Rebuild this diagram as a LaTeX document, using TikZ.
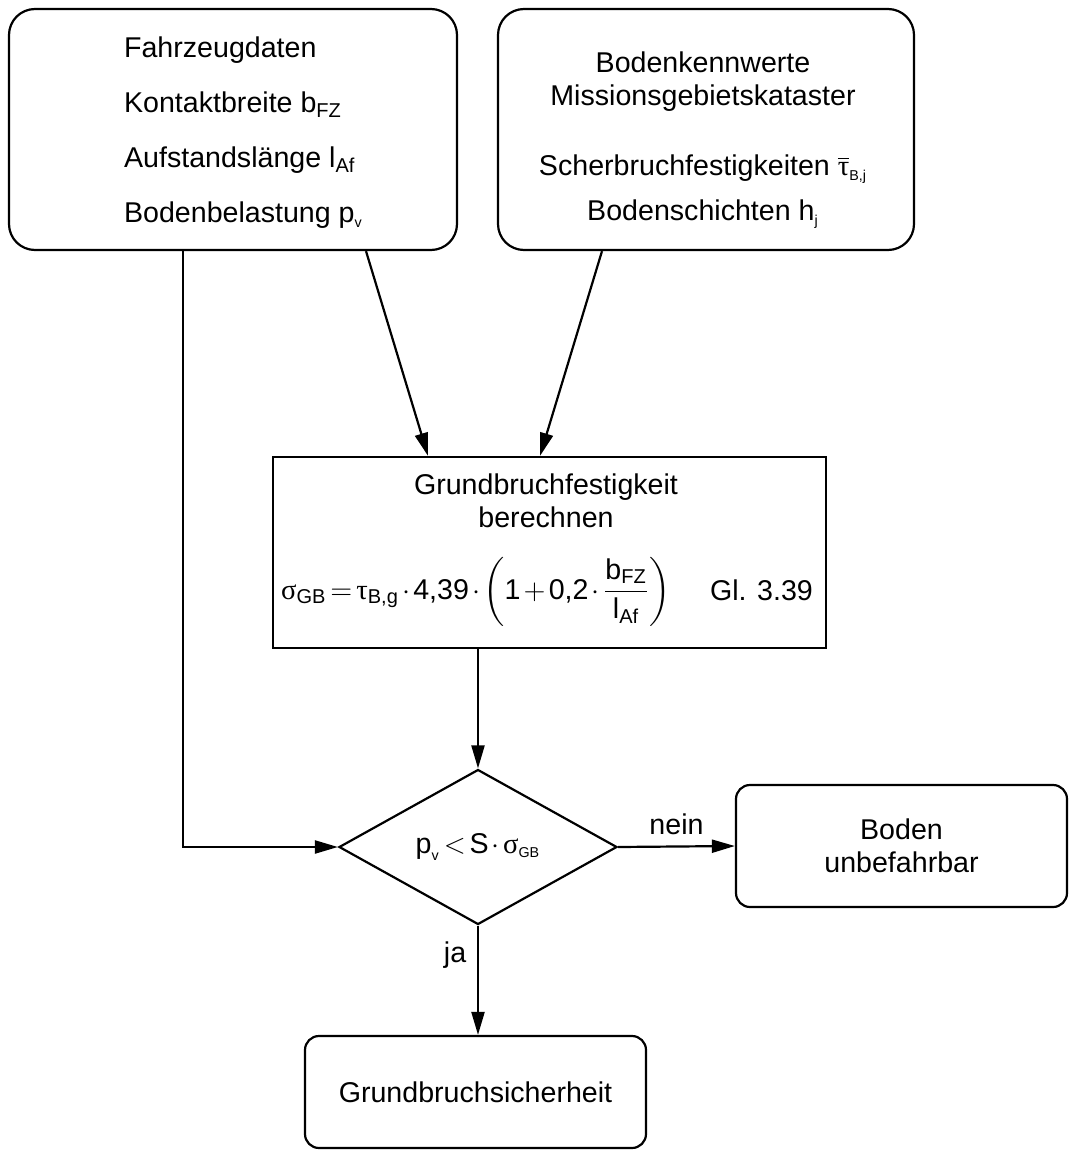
\documentclass[tikz,border=0pt]{standalone}
\usepackage{fontspec}
\usepackage{amsmath}
\setmainfont{Liberation Sans}
\newfontfamily\gr{Liberation Serif}
\usetikzlibrary{arrows.meta,shapes.geometric}

% Indizes: normal und klein
\newcommand{\tiefg}[1]{$_{\text{#1}}$}
\newcommand{\tiefk}[1]{$_{\scriptscriptstyle\text{#1}}$}
% engere Abstaende in den Formeln
\newcommand{\engmath}{\thickmuskip=2.5mu \medmuskip=2mu}

\begin{document}
\begin{tikzpicture}[x=0.5pt, y=-0.5pt, line width=1.1pt,
        >={Triangle[length=11.5pt,width=6.5pt]},
        every node/.style={font=\fontsize{14.3}{16.5}\selectfont},
        beschr/.style={inner sep=0pt},
        kasten/.style={draw, rounded corners=13pt, inner sep=0pt},
        ergebnis/.style={draw, rounded corners=7pt, inner sep=0pt, align=center},
        rechnung/.style={draw, rectangle, inner sep=0pt},
        abfrage/.style={draw, diamond, inner sep=0pt, minimum width=139pt, minimum height=77.5pt}]
        \useasboundingbox (0,0) rectangle (1069,1151);

        % Eingangsdaten Fahrzeug
        \node[kasten, minimum width=224pt, minimum height=120.5pt] (fzdaten) at (233,129.5) {};
        \node[beschr, anchor=west, align=left] (fztext) at (123,133)
            {Fahrzeugdaten\\[11pt] Kontaktbreite b\tiefg{FZ}\\[11pt]
             Aufstandslänge l\tiefg{Af}\\[11pt] Bodenbelastung p\tiefk{v}};

        % Eingangsdaten Boden
        \node[kasten, minimum width=208pt, minimum height=120.5pt] (bodenkw) at (706,129.5) {};
        \node[beschr, align=center] (bkwtext) at (703,140)
            {Bodenkennwerte\\ Missionsgebietskataster\\[18.5pt]
             Scherbruchfestigkeiten $\overline{\text{\gr τ}}_{\scriptscriptstyle\text{B,j}}$\\[6pt]
             Bodenschichten h\tiefk{j}};

        % Berechnung der Grundbruchfestigkeit
        \node[rechnung, minimum width=276.5pt, minimum height=95.5pt] (grundbruch) at (549.5,552.5) {};
        \node[beschr, align=center] (gbtitel) at (546,501) {Grundbruchfestigkeit\\berechnen};
        \node[beschr, anchor=base west] (gbformel) at (280,599)
            {$\engmath\text{\gr σ}_{\text{GB}} = \text{\gr τ}_{\text{B,g}}\cdot\text{4,39}\cdot
              \left(\text{1}+\text{0,2}\cdot\dfrac{\text{b}_{\text{FZ}}}{\text{l}_{\text{Af}}}\right)$};
        \node[beschr, anchor=base west] (gbgl) at (709,600) {Gl. 3.39};

        % Abfrage und Ergebnisse
        \node[abfrage] (pruefung) at (478,847)
            {$\engmath\text{p}_{\scriptscriptstyle\text{v}} < \text{S}\cdot\text{\gr σ}_{\scriptscriptstyle\text{GB}}$};
        \node[ergebnis, minimum width=165.5pt, minimum height=61pt] (unbefahrbar) at (901.5,846) {Boden\\unbefahrbar};
        \node[ergebnis, minimum width=170.5pt, minimum height=56pt] (sicherheit) at (475.5,1092) {Grundbruchsicherheit};

        % Verbindungen
        \coordinate (knick) at (183,847);
        \draw[->] (fzdaten.south -| knick) -- (knick) -- (pruefung.west);
        \draw[->] ([xshift=66.5pt]fzdaten.south) -- ([xshift=-60.75pt]grundbruch.north);
        \draw[->] ([xshift=-52pt]bodenkw.south) -- ([xshift=-4.75pt]grundbruch.north);
        \draw[->] (pruefung.north |- grundbruch.south) -- (pruefung.north);
        \draw[->] (pruefung.east) -- node[above=2pt] (nein) {nein} (unbefahrbar.west);
        \draw[->] (pruefung.south) -- node[pos=0.27, left=2pt] (ja) {ja} (pruefung.south |- sicherheit.north);
    \end{tikzpicture}
\end{document}
